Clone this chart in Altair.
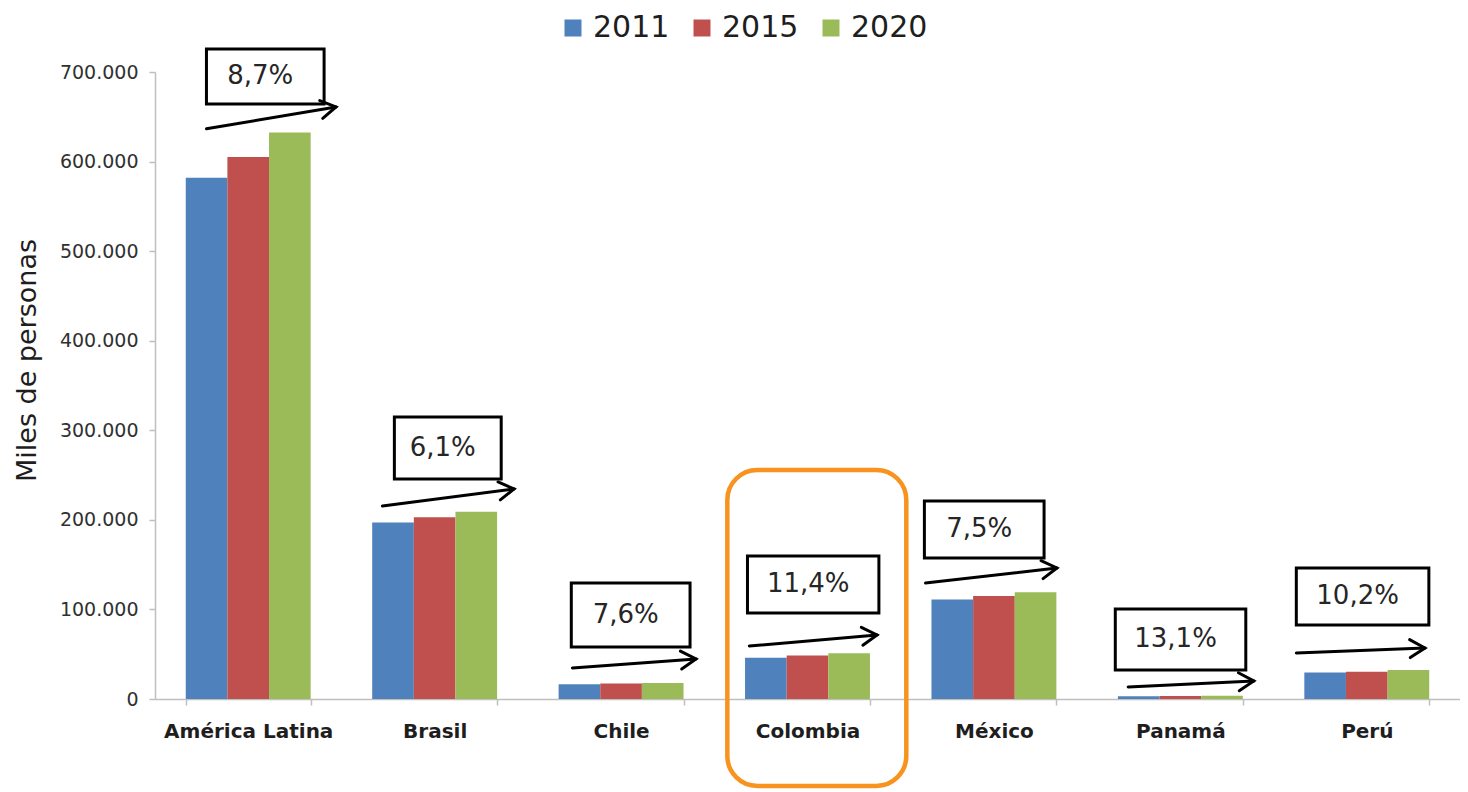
import math
import altair as alt
import pandas as pd

# ---------------- data ----------------
categories = ["América Latina", "Brasil", "Chile", "Colombia", "México", "Panamá", "Perú"]
years = ["2011", "2015", "2020"]
v2011 = [582000, 197000, 16500, 46000, 111000, 3200, 29500]
v2015 = [605000, 203000, 17200, 48500, 115000, 3400, 30500]
v2020 = [632500, 209000, 17800, 51200, 119300, 3620, 32500]
growth_labels = ["8,7%", "6,1%", "7,6%", "11,4%", "7,5%", "13,1%", "10,2%"]
y_ticks = [0, 100000, 200000, 300000, 400000, 500000, 600000, 700000]

# annotation anchors: x in category units (0..7), y in data units
box_u0 = [0.276, 1.284, 2.233, 3.178, 4.127, 5.151, 6.122]
box_u1 = [0.907, 1.857, 2.870, 3.883, 4.769, 5.851, 6.833]
box_top = [725700, 314800, 129500, 159700, 221100, 100500, 146300]
box_bot = [664300, 245600, 58100, 96000, 157400, 32400, 82600]
arr_u0 = [0.276, 1.220, 2.239, 3.188, 4.133, 5.220, 6.122]
arr_u1 = [0.971, 1.926, 2.902, 3.873, 4.838, 5.894, 6.812]
arr_v0 = [636600, 215500, 34600, 59200, 129500, 13400, 51400]
arr_v1 = [661000, 234500, 44700, 71500, 146300, 20100, 56900]
hl_u = [3.07, 4.03]
hl_v = [255700, -97000]

colors = ["#4F81BD", "#C0504D", "#9BBB59"]

W, H = 1305, 627
Y_MAX = 700000
FONT = "DejaVu Sans"

# ---------------- tables ----------------
rows = []
for i, c in enumerate(categories):
    for y, vals in zip(years, [v2011, v2015, v2020]):
        rows.append({"pais": c, "anio": y, "valor": vals[i]})
df = pd.DataFrame(rows)

px_per_u = W / len(categories)
px_per_v = H / Y_MAX
ann = pd.DataFrame({
    "u0": box_u0, "u1": box_u1, "top": box_top, "bot": box_bot,
    "au0": arr_u0, "au1": arr_u1, "av0": arr_v0, "av1": arr_v1,
    "label": growth_labels,
})
ann["uc"] = (ann["u0"] + ann["u1"]) / 2
ann["vc"] = (ann["top"] + ann["bot"]) / 2
ann["ang"] = [
    (math.degrees(math.atan2(-(b - a) * px_per_v, (d - c) * px_per_u))) % 360
    for a, b, c, d in zip(arr_v0, arr_v1, arr_u0, arr_u1)
]
hl = pd.DataFrame({"u0": [hl_u[0]], "u1": [hl_u[1]], "top": [hl_v[0]], "bot": [hl_v[1]]})

yscale = alt.Scale(domain=[0, Y_MAX], nice=False, zero=True)
uscale = alt.Scale(domain=[0, len(categories)], nice=False, zero=False)

bars = alt.Chart(df).mark_bar().encode(
    x=alt.X("pais:N", sort=categories,
            scale=alt.Scale(paddingInner=0.33, paddingOuter=0.165),
            axis=alt.Axis(title=None, labelAngle=0, labelFont=FONT, labelFontWeight="bold",
                          labelFontSize=20, labelColor="#1e1e1e", labelPadding=16,
                          tickBand="extent", tickSize=6, tickColor="#BFBFBF",
                          domainColor="#BFBFBF", domainWidth=1.5, tickWidth=1.5)),
    xOffset=alt.XOffset("anio:N", sort=years, scale=alt.Scale(paddingInner=0, paddingOuter=0)),
    y=alt.Y("valor:Q", scale=yscale,
            axis=alt.Axis(values=y_ticks, format=",d", grid=False, labelFont=FONT,
                          labelFontSize=19, labelColor="#303030", labelPadding=11,
                          tickSize=6, tickColor="#BFBFBF", domainColor="#BFBFBF",
                          domainWidth=1.5, tickWidth=1.5,
                          title="Miles de personas", titleFont=FONT, titleFontSize=27,
                          titleFontWeight="normal", titleColor="#1e1e1e",
                          titleAngle=270, titleAlign="center", titleBaseline="middle",
                          titleX=-128, titleY=288)),
    color=alt.Color("anio:N", scale=alt.Scale(domain=years, range=colors),
                    legend=alt.Legend(title=None, orient="none", legendX=403, legendY=-59,
                                      direction="horizontal", symbolType="square",
                                      symbolSize=289, symbolStrokeWidth=0,
                                      labelFont=FONT, labelFontSize=30,
                                      labelColor="#1e1e1e", labelOffset=5,
                                      columnPadding=17)),
)

base = alt.Chart(ann)
boxes = base.mark_rect(fill="white", stroke="black", strokeWidth=3).encode(
    x=alt.X("u0:Q", scale=uscale, axis=None),
    x2="u1:Q",
    y=alt.Y("top:Q", scale=yscale),
    y2="bot:Q",
)
texts = base.mark_text(font=FONT, fontSize=26, color="#262626", dx=-5,
                       align="center", baseline="middle").encode(
    x=alt.X("uc:Q", scale=uscale, axis=None),
    y=alt.Y("vc:Q", scale=yscale),
    text="label:N",
)
shafts = base.mark_rule(color="black", strokeWidth=3, strokeCap="round").encode(
    x=alt.X("au0:Q", scale=uscale, axis=None),
    x2="au1:Q",
    y=alt.Y("av0:Q", scale=yscale),
    y2="av1:Q",
)
heads = base.mark_point(shape="M-1,-0.6L0,0L-1,0.6", filled=False, stroke="black",
                        strokeWidth=3, size=900, opacity=1, strokeCap="round").encode(
    x=alt.X("au1:Q", scale=uscale, axis=None),
    y=alt.Y("av1:Q", scale=yscale),
    angle=alt.Angle("ang:Q", scale=None),
)
highlight = alt.Chart(hl).mark_rect(fillOpacity=0, stroke="#F7931E", strokeWidth=4.5,
                                    cornerRadius=30).encode(
    x=alt.X("u0:Q", scale=uscale, axis=None),
    x2="u1:Q",
    y=alt.Y("top:Q", scale=yscale),
    y2="bot:Q",
)

chart = alt.layer(bars, boxes, texts, shafts, heads, highlight).resolve_scale(
    x="independent"
).properties(
    width=W, height=H,
    padding={"left": 147, "top": 64, "right": 0, "bottom": 92},
    autosize=alt.AutoSizeParams(type="none"),
    background="white",
).configure(
    locale={"number": {"decimal": ",", "thousands": ".", "grouping": [3],
                       "currency": ["$", ""]}}
).configure_view(stroke=None)

chart.save("out.html", embed_options={"renderer": "svg", "actions": False})
